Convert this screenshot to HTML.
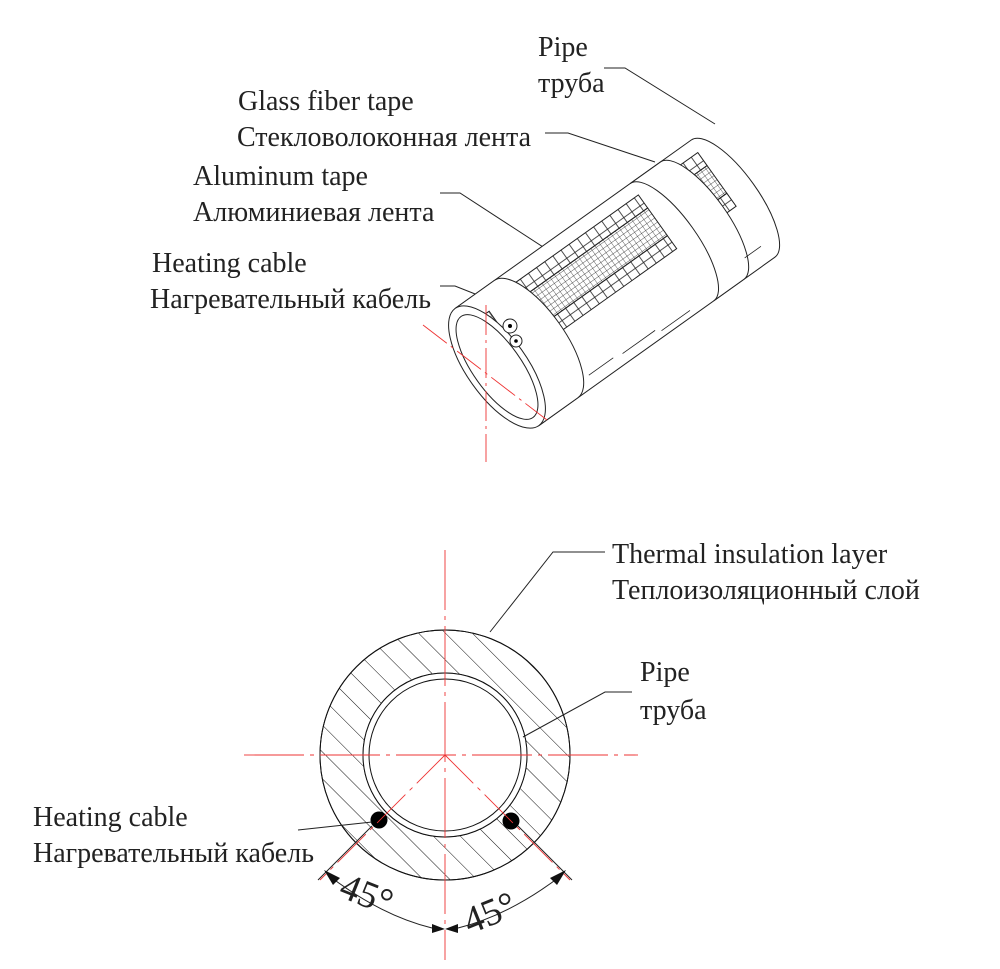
<!DOCTYPE html>
<html><head><meta charset="utf-8"><style>
body{margin:0;background:#fff}
svg{display:block}
text{font-family:"Liberation Serif",serif;font-size:28px;fill:#222}
</style></head><body>
<svg width="1000" height="969" viewBox="0 0 1000 969">
<defs>
<pattern id="hatch" width="19" height="19" patternUnits="userSpaceOnUse" patternTransform="rotate(-45)">
<line x1="0" y1="0" x2="0" y2="19" stroke="#111" stroke-width="1"/>
</pattern>
<pattern id="mesh" width="5" height="5" patternUnits="userSpaceOnUse">
<path d="M0 0H5M0 0V5" stroke="#222" stroke-width="0.7" fill="none"/>
</pattern>
<pattern id="cells" width="10" height="16" patternUnits="userSpaceOnUse">
<rect x="0" y="0" width="10" height="16" fill="none" stroke="#222" stroke-width="0.8"/>
</pattern>
</defs>

<text x="538" y="56">Pipe</text>
<text x="538" y="92">труба</text>
<text x="238" y="110">Glass fiber tape</text>
<text x="237" y="146">Стекловолоконная лента</text>
<text x="193" y="185">Aluminum tape</text>
<text x="193" y="221">Алюминиевая лента</text>
<text x="152" y="272">Heating cable</text>
<text x="150" y="308">Нагревательный кабель</text>
<g stroke="#222" stroke-width="1" fill="none">
<path d="M604 68H625L715 124"/>
<path d="M545 133H568L655 162"/>
<path d="M440 193H460L560 258"/>
<path d="M440 286H455L503 305"/>
</g>

<g transform="translate(497,367) rotate(-35.5)" stroke="#222" stroke-width="1" fill="#fff">
<path d="M0 -72 L290 -72 A25 72 0 0 1 290 72 L0 72 Z"/>
<rect x="262" y="-58" width="26" height="16" fill="url(#cells)"/>
<rect x="262" y="-42" width="26" height="34" fill="url(#mesh)"/>
<rect x="262" y="-8" width="26" height="16" fill="url(#cells)"/>
<path d="M215 -72 L252 -72 A25 72 0 0 1 252 72 L215 72 A25 72 0 0 0 215 -72Z"/>
<rect x="55" y="-58" width="160" height="16" fill="url(#cells)"/>
<rect x="55" y="-42" width="160" height="34" fill="url(#mesh)"/>
<rect x="55" y="-8" width="160" height="16" fill="url(#cells)"/>
<path d="M0 -72 L48 -72 A28 72 0 0 1 48 72 L0 72 Z"/>
<rect x="-2" y="-50" width="28" height="48" fill="url(#mesh)"/>
<ellipse cx="0" cy="0" rx="30" ry="72"/>
<ellipse cx="0" cy="0" rx="24" ry="62"/>
<g stroke-width="0.8">
<path d="M70 60H100M110 62H150M155 66H190M265 55H285"/>
</g>
</g>
<circle cx="510" cy="326" r="7" fill="#fff" stroke="#222"/>
<circle cx="510" cy="326" r="2" fill="#000"/>
<circle cx="516" cy="341" r="6" fill="#fff" stroke="#222"/>
<circle cx="516" cy="341" r="1.8" fill="#000"/>
<g stroke="#e33" stroke-width="0.9" fill="none">
<path d="M486 305V462" stroke-dasharray="30 5 3 5"/>
<path d="M423 325L547 420" stroke-dasharray="30 5 3 5"/>
</g>

<text x="612" y="563">Thermal insulation layer</text>
<text x="612" y="599">Теплоизоляционный слой</text>
<text x="640" y="681">Pipe</text>
<text x="640" y="719">труба</text>
<text x="33" y="826">Heating cable</text>
<text x="33" y="862">Нагревательный кабель</text>

<path d="M445 755m-125 0a125 125 0 1 0 250 0a125 125 0 1 0 -250 0M445 755m-82 0a82 82 0 1 1 164 0a82 82 0 1 1 -164 0Z" fill="url(#hatch)" fill-rule="evenodd" stroke="#111" stroke-width="1"/>
<circle cx="445" cy="755" r="125" fill="none" stroke="#111"/>
<circle cx="445" cy="755" r="82" fill="#fff" stroke="#111"/>
<circle cx="445" cy="755" r="76" fill="#fff" stroke="#111"/>
<circle cx="379" cy="820" r="8.5" fill="#000"/>
<circle cx="511" cy="821" r="8.5" fill="#000"/>

<g stroke="#222" stroke-width="1" fill="none">
<path d="M605 552H553L490 632"/>
<path d="M632 692H605L523 737"/>
<path d="M298 830L372 822"/>
<path d="M372 826L318 880M518 826L572 880"/>
<path d="M328 875Q380 915 432 928M458 928Q510 915 562 875"/>
</g>
<g fill="#111">
<polygon points="324,870 340,878 333,885"/>
<polygon points="566,870 557,885 550,878"/>
<polygon points="432,924 445,929 432,933"/>
<polygon points="458,924 445,929 458,933"/>
</g>
<text x="340" y="908" transform="rotate(22 370 895)" style="font-size:38px">45°</text>
<text x="462" y="925" transform="rotate(-22 490 910)" style="font-size:38px">45°</text>

<g stroke="#e33" stroke-width="0.9" fill="none">
<path d="M445 550V960" stroke-dasharray="60 6 4 6"/>
<path d="M244 755H638" stroke-dasharray="60 6 4 6"/>
<path d="M445 755L320 880M445 755L570 880" stroke-dasharray="40 6 4 6"/>
</g>
</svg>
</body></html>
